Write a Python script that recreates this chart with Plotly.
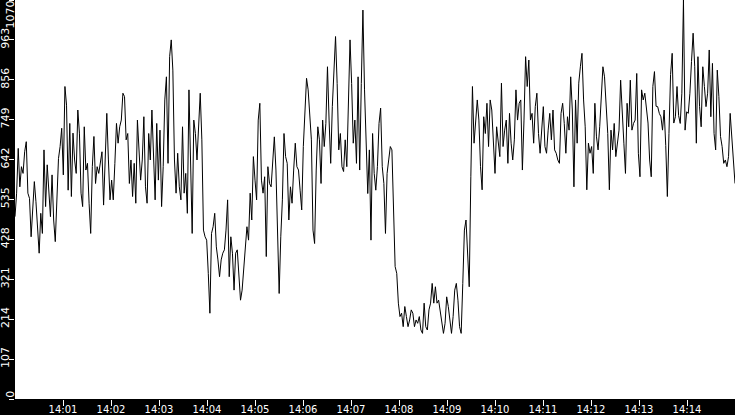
import pandas as pd
import plotly.graph_objects as go

# readings, split in 8 chunks of equal length (about 1m52s each)
part1 = [489, 552, 672, 569, 623, 605, 663, 690, 552, 538, 435, 511, 583, 529, 462, 391, 498, 444, 668, 516,
         628, 561, 489, 601, 480, 422, 552, 645, 677, 726, 601, 838, 788, 560, 739, 543, 713, 641, 605, 775,
         713, 552, 516, 730, 614, 632, 525, 444, 623, 704, 578, 623, 605, 632, 663, 520]
part2 = [677, 766, 641, 534, 587, 534, 632, 739, 686, 730, 748, 820, 811, 695, 712, 578, 641, 543, 632, 525,
         748, 659, 587, 641, 757, 569, 525, 712, 641, 775, 659, 534, 739, 587, 721, 516, 623, 802, 864, 632,
         918, 963, 882, 641, 552, 659, 569, 534, 730, 552, 605, 498, 829, 623, 444, 748]
part3 = [712, 641, 730, 820, 695, 453, 435, 426, 337, 230, 444, 462, 498, 408, 373, 328, 373, 391, 400, 453,
         534, 328, 435, 391, 292, 391, 400, 319, 265, 292, 346, 400, 462, 426, 552, 480, 650, 587, 534, 748,
         793, 587, 552, 596, 382, 623, 578, 569, 641, 703, 614, 426, 283, 435, 534, 712]
part4 = [650, 632, 480, 569, 525, 614, 686, 623, 614, 560, 507, 677, 757, 860, 829, 757, 695, 453, 417, 614,
         730, 695, 578, 748, 677, 739, 891, 748, 632, 784, 891, 972, 846, 668, 712, 623, 610, 695, 623, 802,
         963, 846, 686, 748, 632, 864, 614, 846, 1043, 829, 650, 551, 668, 426, 712, 605]
part5 = [560, 623, 739, 780, 623, 578, 444, 605, 641, 677, 668, 507, 355, 337, 257, 221, 230, 194, 248, 221,
         194, 212, 239, 230, 194, 212, 203, 221, 185, 176, 257, 194, 185, 239, 257, 310, 257, 301, 257, 265,
         239, 212, 176, 203, 274, 248, 203, 176, 221, 292, 310, 265, 194, 176, 310, 453]
part6 = [480, 391, 301, 596, 838, 686, 757, 802, 748, 623, 561, 757, 712, 793, 677, 802, 775, 686, 605, 730,
         695, 650, 847, 677, 721, 748, 632, 766, 686, 641, 695, 829, 748, 793, 802, 614, 748, 918, 838, 909,
         748, 766, 686, 784, 820, 712, 659, 730, 784, 677, 659, 721, 766, 695, 775, 668]
part7 = [659, 641, 632, 766, 793, 739, 659, 757, 721, 864, 775, 569, 802, 686, 847, 891, 927, 802, 730, 561,
         686, 659, 677, 605, 793, 703, 668, 730, 802, 891, 864, 784, 712, 561, 721, 668, 739, 650, 686, 721,
         855, 748, 686, 605, 793, 730, 855, 721, 739, 748, 873, 659, 596, 829, 802, 820]
part8 = [784, 740, 641, 596, 838, 878, 785, 784, 766, 757, 721, 775, 680, 543, 712, 870, 927, 740, 757, 838,
         760, 739, 820, 1070, 721, 770, 766, 820, 905, 981, 891, 686, 918, 784, 730, 891, 838, 784, 820, 936,
         757, 900, 712, 668, 882, 811, 704, 677, 632, 641, 623, 650, 766, 712, 641, 578]

values = part1 + part2 + part3 + part4 + part5 + part6 + part7 + part8
start, end = "2024-01-01 14:00:00", "2024-01-01 14:15:00"
times = pd.date_range(start, end, periods=len(values))

y_ticks = [0, 107, 214, 321, 428, 535, 642, 749, 856, 963, 1070]
x_ticks = ["14:%02d" % m for m in range(1, 15)]
x_tickvals = [pd.Timestamp("2024-01-01 " + t) for t in x_ticks]

fig = go.Figure()
fig.add_trace(go.Scatter(x=times, y=values, mode="lines",
                         line=dict(color="black", width=1), showlegend=False))

yfont = dict(family="DejaVu Sans", size=11, color="white")
xfont = dict(family="DejaVu Sans", size=10, color="white")
yax = dict(range=[0, 1070], showgrid=False, zeroline=False, showline=False, automargin=False,
           ticks="outside", ticklen=5, tickcolor="white", tickangle=-90,
           ticklabelstandoff=-4, ticklabeloverflow="allow", tickfont=yfont, fixedrange=True)

fig.update_layout(
    width=735, height=415,
    margin=dict(l=15, r=0, t=0, b=16, pad=0),
    paper_bgcolor="black", plot_bgcolor="white",
    hovermode=False,
    xaxis=dict(range=[pd.Timestamp(start), pd.Timestamp(end)], showgrid=False, zeroline=False,
               showline=False, automargin=False, ticks="outside", ticklen=6, tickcolor="white",
               ticklabelstandoff=-5, ticklabeloverflow="allow",
               tickvals=x_tickvals, ticktext=x_ticks, tickfont=xfont),
    yaxis=dict(yax, tickvals=y_ticks[1:-1]),
    # end labels pushed inward so they stay on the page
    yaxis2=dict(yax, tickvals=[y_ticks[-1]], overlaying="y",
                ticklabelposition="outside bottom", ticklabelshift=8),
    yaxis3=dict(yax, tickvals=[y_ticks[0]], overlaying="y",
                ticklabelposition="outside top", ticklabelshift=5),
)
# empty traces so the extra axes get drawn
fig.add_trace(go.Scatter(x=[], y=[], yaxis="y2", showlegend=False))
fig.add_trace(go.Scatter(x=[], y=[], yaxis="y3", showlegend=False))

fig.write_html("out.html", config={"displayModeBar": False},
               post_script="document.body.style.margin = '0';")
